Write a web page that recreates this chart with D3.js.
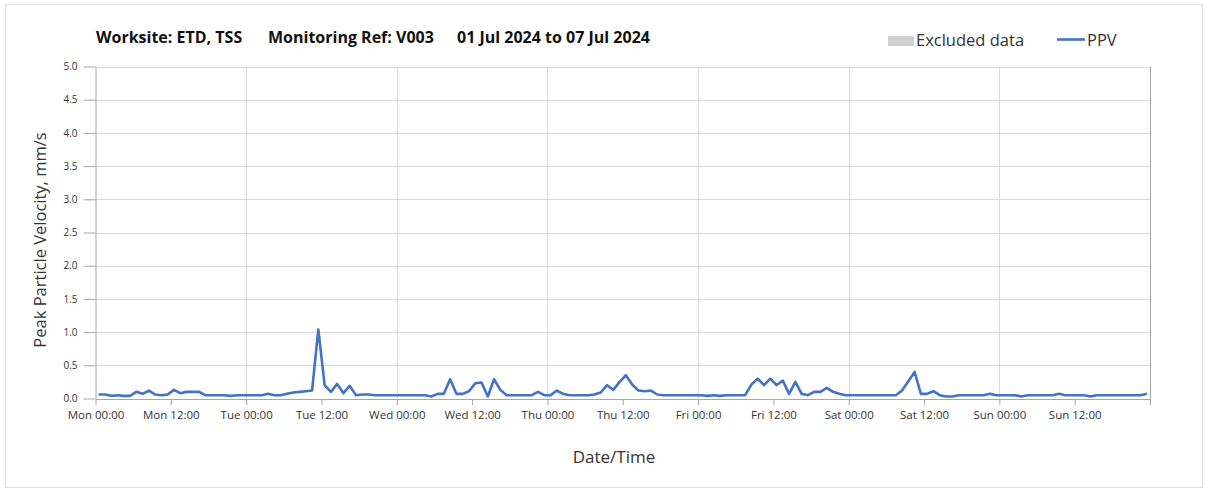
<!DOCTYPE html>
<html>
<head>
  <meta charset="utf-8">
  <script src="https://d3js.org/d3.v7.min.js"></script>
  <style>
    body { margin:0; background:#fff; }
    svg { display:block; }
  </style>
</head>
<body>
  <script>
    // Chart data
    var startDate = new Date(2024, 6, 1, 0, 0);
    var endDate = new Date(2024, 6, 8, 0, 0);
    var tickLabels = ["Mon 00:00","Mon 12:00","Tue 00:00","Tue 12:00","Wed 00:00","Wed 12:00",
                      "Thu 00:00","Thu 12:00","Fri 00:00","Fri 12:00","Sat 00:00","Sat 12:00",
                      "Sun 00:00","Sun 12:00",""];
    var yTicks = [0,0.5,1,1.5,2,2.5,3,3.5,4,4.5,5];
    // hourly PPV readings (mm/s), Mon 00:00 .. Sun 23:00
    var ppvMon = [0.06,0.06,0.04,0.05,0.04,0.04,0.10,0.07,0.12,0.06,0.05,0.06,0.13,0.08,0.10,0.10,0.10,0.05,0.05,0.05,0.05,0.04,0.05,0.05];
    var ppvTue = [0.05,0.05,0.05,0.07,0.05,0.05,0.07,0.09,0.10,0.11,0.12,1.04,0.20,0.10,0.22,0.08,0.19,0.05,0.06,0.06,0.05,0.05,0.05,0.05];
    var ppvWed = [0.05,0.05,0.05,0.05,0.05,0.03,0.07,0.07,0.29,0.07,0.07,0.11,0.23,0.24,0.03,0.29,0.13,0.05,0.05,0.05,0.05,0.05,0.10,0.05];
    var ppvThu = [0.05,0.12,0.07,0.05,0.05,0.05,0.05,0.06,0.09,0.20,0.13,0.25,0.35,0.21,0.12,0.11,0.12,0.06,0.05,0.05,0.05,0.05,0.05,0.05];
    var ppvFri = [0.05,0.04,0.05,0.04,0.05,0.05,0.05,0.05,0.21,0.30,0.20,0.30,0.20,0.27,0.07,0.25,0.07,0.05,0.10,0.10,0.16,0.10,0.07,0.05];
    var ppvSat = [0.05,0.05,0.05,0.05,0.05,0.05,0.05,0.05,0.12,0.26,0.40,0.07,0.07,0.11,0.05,0.03,0.03,0.05,0.05,0.05,0.05,0.05,0.07,0.05];
    var ppvSun = [0.05,0.05,0.05,0.03,0.05,0.05,0.05,0.05,0.05,0.07,0.05,0.05,0.05,0.05,0.03,0.05,0.05,0.05,0.05,0.05,0.05,0.05,0.05,0.07];

    var ppv = [].concat(ppvMon, ppvTue, ppvWed, ppvThu, ppvFri, ppvSat, ppvSun);
    var data = ppv.map(function(v, i) {
      return { t: new Date(startDate.getTime() + (i + 0.5) * 3600 * 1000), v: v };
    });

    var W = 1208, H = 490;
    var plotL = 95.5, plotR = 1150, plotT = 66.5, plotB = 398.5;
    var txt = "#333";
    var uiFont = "'Open Sans', 'Noto Sans', sans-serif";

    var svg = d3.select("body").append("svg")
      .attr("width", W)
      .attr("height", H);

    // outer frame
    svg.append("rect")
      .attr("x", 5.5).attr("y", 4.5)
      .attr("width", 1197).attr("height", 483)
      .attr("fill", "none").attr("stroke", "#e0e0e0");

    var x = d3.scaleTime().domain([startDate, endDate]).range([plotL, plotR]);
    var y = d3.scaleLinear().domain([0, 5]).range([plotB, plotT]);

    // gridlines
    svg.append("g").selectAll("line")
      .data(yTicks.slice(1))
      .enter().append("line")
      .attr("x1", plotL).attr("x2", plotR)
      .attr("y1", function(d){ return Math.round(y(d)) + 0.5; })
      .attr("y2", function(d){ return Math.round(y(d)) + 0.5; })
      .attr("stroke", "#d9d9d9");

    var days = d3.timeDay.range(d3.timeDay.offset(startDate, 1), d3.timeDay.offset(endDate, 1));
    svg.append("g").selectAll("line")
      .data(days)
      .enter().append("line")
      .attr("x1", function(d){ return Math.round(x(d)) + 0.5; })
      .attr("x2", function(d){ return Math.round(x(d)) + 0.5; })
      .attr("y1", plotT).attr("y2", plotB)
      .attr("stroke", function(d){ return +d === +endDate ? "#a6a6a6" : "#d9d9d9"; });

    // axes
    var tickTimes = d3.timeHour.every(12).range(startDate, d3.timeHour.offset(endDate, 1));
    var xAxis = d3.axisBottom(x)
      .tickValues(tickTimes)
      .tickSize(6).tickSizeOuter(0).tickPadding(6)
      .tickFormat(function(d, i){ return tickLabels[i]; });
    var gx = svg.append("g").attr("transform", "translate(0," + (plotB + 0.5) + ")").call(xAxis);
    gx.select(".domain").attr("stroke", "#a6a6a6");
    gx.selectAll(".tick line").attr("stroke", "#a6a6a6");
    gx.selectAll(".tick text").attr("fill", txt)
      .style("font-family", uiFont).style("font-size", "11.5px");

    var yAxis = d3.axisLeft(y)
      .tickValues(yTicks)
      .tickSize(12).tickSizeOuter(0).tickPadding(6)
      .tickFormat(d3.format(".1f"));
    var gy = svg.append("g").attr("transform", "translate(" + plotL + ",0)").call(yAxis);
    gy.select(".domain").attr("stroke", "#a6a6a6");
    gy.selectAll(".tick line").attr("stroke", "#a6a6a6");
    gy.selectAll(".tick text").attr("fill", txt)
      .style("font-family", uiFont).style("font-size", "10px");

    // PPV line
    var line = d3.line()
      .x(function(d){ return x(d.t); })
      .y(function(d){ return y(d.v); });
    svg.append("path")
      .datum(data)
      .attr("d", line)
      .attr("fill", "none")
      .attr("stroke", "#4472c4")
      .attr("stroke-width", 2.6)
      .attr("stroke-linejoin", "round");

    // title
    var title = svg.append("g")
      .style("font-family", "'Open Sans', sans-serif")
      .style("font-weight", "bold")
      .style("font-size", "16px")
      .attr("fill", "#111");
    title.append("text").attr("x", 96).attr("y", 43).text("Worksite: ETD, TSS");
    title.append("text").attr("x", 268).attr("y", 43).text("Monitoring Ref: V003");
    title.append("text").attr("x", 457).attr("y", 43).text("01 Jul 2024 to 07 Jul 2024");

    // legend
    svg.append("rect").attr("x", 888).attr("y", 36).attr("width", 26).attr("height", 10).attr("fill", "#d0d0d0");
    svg.append("text").attr("x", 916).attr("y", 46).text("Excluded data")
      .attr("fill", txt).style("font-family", uiFont).style("font-size", "16.5px");
    svg.append("line").attr("x1", 1057).attr("x2", 1085).attr("y1", 39.5).attr("y2", 39.5)
      .attr("stroke", "#4472c4").attr("stroke-width", 2.6);
    svg.append("text").attr("x", 1087).attr("y", 46).text("PPV")
      .attr("fill", txt).style("font-family", uiFont).style("font-size", "16.5px");

    // axis titles
    svg.append("text")
      .attr("transform", "translate(46,240) rotate(-90)")
      .attr("text-anchor", "middle")
      .text("Peak Particle Velocity, mm/s")
      .attr("fill", txt).style("font-family", uiFont).style("font-size", "16.5px");
    svg.append("text")
      .attr("x", 614).attr("y", 463)
      .attr("text-anchor", "middle")
      .text("Date/Time")
      .attr("fill", txt).style("font-family", uiFont).style("font-size", "17px");
  </script>
</body>
</html>
